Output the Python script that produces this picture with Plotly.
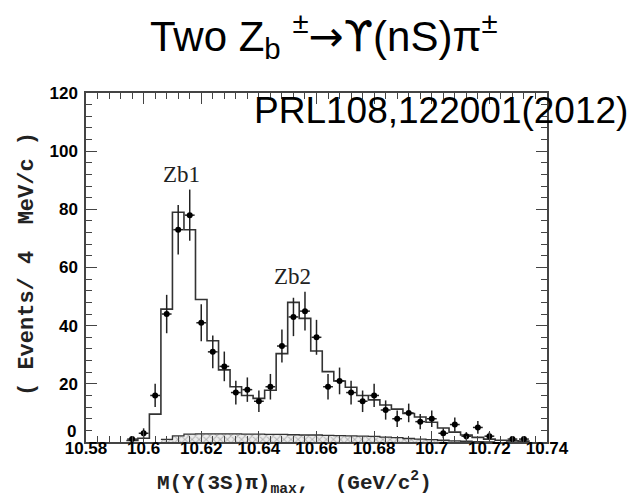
import plotly.graph_objects as go

# Bin centres (GeV/c^2), 4 MeV bins
data_x = [10.596, 10.600, 10.604, 10.608, 10.612, 10.616, 10.620, 10.624, 10.628,
          10.632, 10.636, 10.640, 10.644, 10.648, 10.652, 10.656, 10.660, 10.664,
          10.668, 10.672, 10.676, 10.680, 10.684, 10.688, 10.692, 10.696, 10.700,
          10.704, 10.708, 10.712, 10.716, 10.720, 10.728, 10.732]
# Observed events per bin
data_y = [1, 3, 16, 44, 73, 78, 41, 31, 26,
          17, 18, 14, 19, 33, 43, 45, 36, 19,
          21, 17, 14, 16, 11, 8, 10, 7, 8,
          3, 6, 2, 5, 2, 1, 1]
# Statistical errors per bin
data_err = [1.0, 1.7, 4.0, 6.6, 8.5, 8.8, 6.4, 5.6, 5.1,
            4.1, 4.2, 3.7, 4.4, 5.7, 6.6, 6.7, 6.0, 4.4,
            4.6, 4.1, 3.7, 4.0, 3.3, 2.8, 3.2, 2.6, 2.8,
            1.7, 2.4, 1.4, 2.2, 1.4, 1.0, 1.0]

# Fit result, per bin
fit_x = [10.596, 10.600, 10.604, 10.608, 10.612, 10.616, 10.620, 10.624, 10.628,
         10.632, 10.636, 10.640, 10.644, 10.648, 10.652, 10.656, 10.660, 10.664,
         10.668, 10.672, 10.676, 10.680, 10.684, 10.688, 10.692, 10.696, 10.700,
         10.704, 10.708, 10.712, 10.716, 10.720, 10.724, 10.728, 10.732]
fit_y = [0.5, 1.3, 9.6, 45.7, 79.0, 73.0, 49.0, 34.8, 24.8,
         19.0, 16.0, 15.0, 17.8, 30.4, 48.0, 42.5, 31.3, 24.2,
         21.0, 18.8, 16.0, 14.5, 12.7, 11.3, 9.8, 8.6, 6.8,
         4.8, 3.4, 2.4, 1.6, 1.0, 0.6, 0.4, 0.3]

# Non-resonant background, per bin
bkg_x = [10.608, 10.612, 10.616, 10.620, 10.624, 10.628, 10.632, 10.636, 10.640,
         10.644, 10.648, 10.652, 10.656, 10.660, 10.664, 10.668, 10.672, 10.676,
         10.680, 10.684, 10.688, 10.692, 10.696, 10.700, 10.704, 10.708, 10.712,
         10.716, 10.720]
bkg_y = [0.9, 2.1, 2.7, 2.8, 2.8, 2.8, 2.8, 2.7, 2.7,
         2.6, 2.6, 2.5, 2.4, 2.4, 2.3, 2.2, 2.1, 2.0,
         1.9, 1.7, 1.5, 1.2, 1.0, 0.8, 0.6, 0.4, 0.25,
         0.15, 0.05]

BIN = 0.004
x_ticks = [10.58, 10.60, 10.62, 10.64, 10.66, 10.68, 10.70, 10.72, 10.74]
x_tick_text = ["10.58", "10.6", "10.62", "10.64", "10.66", "10.68", "10.7", "10.72", "10.74"]
y_ticks = [0, 20, 40, 60, 80, 100, 120]
y_tick_text = ["", "20", "40", "60", "80", "100", "120"]   # "0" is placed separately, raised


def step_outline(centres, values):
    """Edges and heights for an 'hv' step line covering every bin."""
    edges = [c - BIN / 2 for c in centres] + [centres[-1] + BIN / 2]
    heights = list(values) + [values[-1]]
    return edges, heights


fig = go.Figure()

bx, by = step_outline(bkg_x, bkg_y)
fig.add_trace(go.Scatter(
    x=bx, y=by, mode="lines", line=dict(color="#333333", width=1.3, shape="hv"),
    fill="tozeroy", fillcolor="rgba(255,255,255,0)",
    fillpattern=dict(shape="x", fgcolor="#777777", bgcolor="#ececec", size=5, solidity=0.35),
    hoverinfo="skip", showlegend=False))

fx, fy = step_outline(fit_x, fit_y)
fig.add_trace(go.Scatter(
    x=fx, y=fy, mode="lines", line=dict(color="#333333", width=1.6, shape="hv"),
    hoverinfo="skip", showlegend=False))

fig.add_trace(go.Scatter(
    x=data_x, y=data_y, mode="markers",
    marker=dict(color="black", size=6),
    error_y=dict(type="data", array=data_err, color="#222222", thickness=1.5, width=0),
    error_x=dict(type="constant", value=0.0017, color="#222222", thickness=1.5, width=0),
    showlegend=False))

tick_font = dict(family="Liberation Sans", size=17, color="black", weight="bold")
fig.update_xaxes(
    range=[10.58, 10.74], tickvals=x_ticks, ticktext=x_tick_text,
    ticks="inside", ticklen=11, tickwidth=1.3, tickcolor="#444444",
    minor=dict(ticks="inside", ticklen=6, dtick=0.004, tick0=10.58, tickcolor="#444444", tickwidth=1.1),
    showline=True, linecolor="#444444", linewidth=1.5, mirror="ticks",
    showgrid=False, zeroline=False, tickfont=tick_font, ticklabelstandoff=-10)
fig.update_yaxes(
    range=[0, 120], tickvals=y_ticks, ticktext=y_tick_text,
    ticks="inside", ticklen=11, tickwidth=1.3, tickcolor="#444444",
    minor=dict(ticks="inside", ticklen=6, dtick=4, tick0=0, tickcolor="#444444", tickwidth=1.1),
    showline=True, linecolor="#444444", linewidth=1.5, mirror="ticks",
    showgrid=False, zeroline=False, tickfont=tick_font, ticklabelstandoff=3)

sym = "font-family:'DejaVu Sans'"
annotations = [
    dict(text=f"Two Z<sub>b</sub> <sup>±</sup><span style=\"{sym}\">→ϒ</span>(nS)π<sup>±</sup>",
         x=0.516, y=1.165,
         font=dict(family="Liberation Sans", size=42, color="black")),
    dict(text="PRL108,122001(2012)", x=0.771, y=0.951,
         font=dict(family="Liberation Sans", size=37, color="black")),
    dict(text="Zb1", x=10.6133, y=92.0, xref="x", yref="y",
         font=dict(family="Liberation Serif", size=23, color="#222222")),
    dict(text="Zb2", x=10.6518, y=56.8, xref="x", yref="y",
         font=dict(family="Liberation Serif", size=23, color="#222222")),
    dict(text="( Events/ 4  MeV/c )", x=-0.128, y=0.51, textangle=-90,
         font=dict(family="Liberation Mono", size=22, color="#222222", weight="bold")),
    dict(text="M(Y(3S)π)<sub>max</sub>,  (GeV/c<sup>2</sup>)", x=0.453, y=-0.115,
         font=dict(family="Liberation Mono", size=21, color="#222222", weight="bold")),
    dict(text="0", x=-0.018, y=0.03, xanchor="right", font=tick_font),
]
for a in annotations:
    a.setdefault("xref", "paper")
    a.setdefault("yref", "paper")
    a.setdefault("xanchor", "center")
    a.update(showarrow=False, yanchor="middle")
fig.update_layout(annotations=annotations)

fig.update_layout(
    width=637, height=501,
    margin=dict(l=86, r=90, t=93, b=59),
    paper_bgcolor="white", plot_bgcolor="white",
    showlegend=False,
)

fig.write_html("out.html")
